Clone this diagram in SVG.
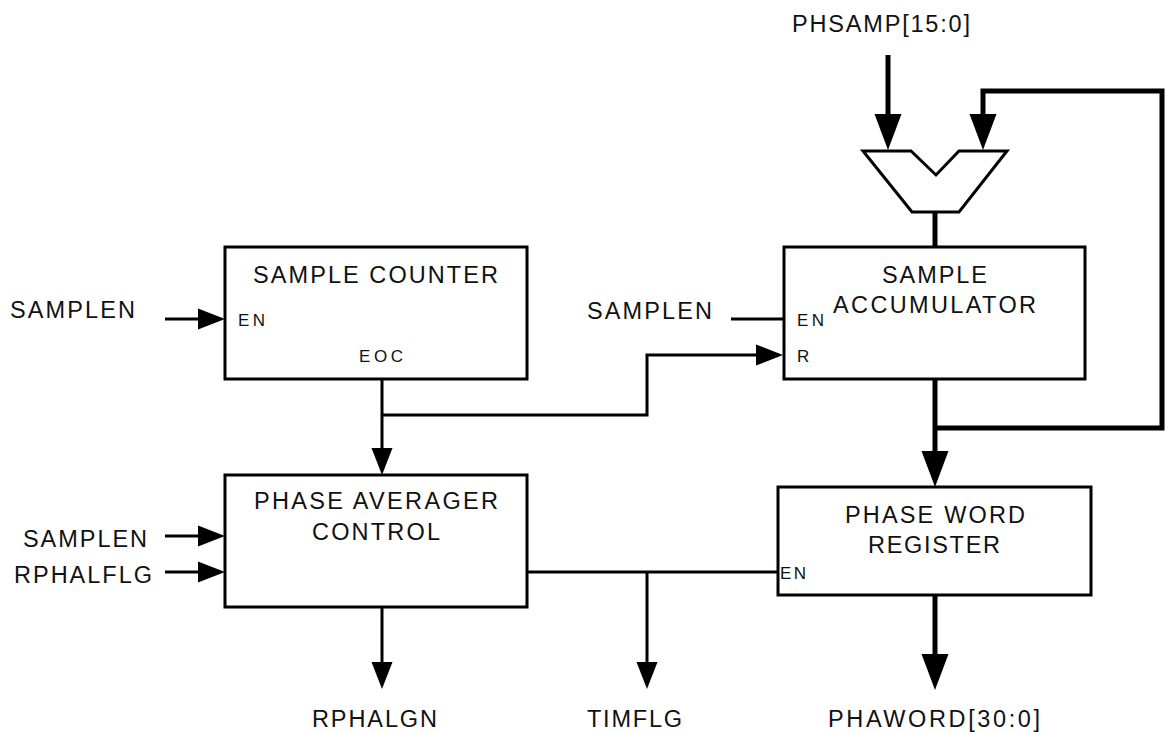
<svg xmlns="http://www.w3.org/2000/svg" width="1165" height="732" viewBox="0 0 1165 732">
<style>
  .box { fill: #fff; stroke: #000; stroke-width: 3; }
  .thin { fill: none; stroke: #000; stroke-width: 3; }
  .thick { fill: none; stroke: #000; stroke-width: 5; }
  .lbl { font-family: "Liberation Sans", Arial, sans-serif; font-size: 23.5px; fill: #111; }
  .sm { font-family: "Liberation Sans", Arial, sans-serif; font-size: 17px; fill: #111; }
</style>
<defs>
  <marker id="aThin" markerUnits="userSpaceOnUse" markerWidth="27" markerHeight="21" refX="1" refY="10.5" orient="auto" overflow="visible">
    <path d="M0,0 L27,10.5 L0,21 Z" fill="#000"/>
  </marker>
  <marker id="aThick" markerUnits="userSpaceOnUse" markerWidth="36" markerHeight="27" refX="1" refY="13.5" orient="auto" overflow="visible">
    <path d="M0,0 L36,13.5 L0,27 Z" fill="#000"/>
  </marker>
</defs>
<rect width="1165" height="732" fill="#fff"/>

<g id="connectors">
  <path class="thin" d="M165,319 H199" marker-end="url(#aThin)"/>
  <path class="thin" d="M165,536 H199" marker-end="url(#aThin)"/>
  <path class="thin" d="M165,572 H199" marker-end="url(#aThin)"/>
  <path class="thin" d="M731,319 H784"/>
  <path class="thin" d="M382,379 V449" marker-end="url(#aThin)"/>
  <path class="thin" d="M382,415 H647 V355 H757" marker-end="url(#aThin)"/>
  <path class="thin" d="M527,572 H779"/>
  <path class="thin" d="M647,572 V663" marker-end="url(#aThin)"/>
  <path class="thin" d="M382,607 V663" marker-end="url(#aThin)"/>
  <path class="thick" d="M888,55 V115" marker-end="url(#aThick)"/>
  <path class="thick" d="M935,428 H1162 V91 H983 V115" marker-end="url(#aThick)"/>
  <path class="thick" d="M935,212 V247"/>
  <path class="thick" d="M935,379 V452" marker-end="url(#aThick)"/>
  <path class="thick" d="M935,595 V655" marker-end="url(#aThick)"/>
</g>

<g id="adder">
  <polygon class="box" points="863,151 911,151 936,175 959,151 1007,151 959,212 912,212"/>
</g>

<g id="sample-counter">
  <rect class="box" x="225" y="247" width="302" height="132"/>
  <text class="lbl" x="253" y="283" textLength="245" lengthAdjust="spacing">SAMPLE COUNTER</text>
  <text class="sm" x="238" y="326" textLength="27" lengthAdjust="spacing">EN</text>
  <text class="sm" x="359" y="362" textLength="44" lengthAdjust="spacing">EOC</text>
</g>

<g id="phase-averager-control">
  <rect class="box" x="225" y="475" width="302" height="132"/>
  <text class="lbl" x="254" y="509" textLength="244" lengthAdjust="spacing">PHASE AVERAGER</text>
  <text class="lbl" x="312" y="540" textLength="128" lengthAdjust="spacing">CONTROL</text>
</g>

<g id="sample-accumulator">
  <rect class="box" x="784" y="247" width="301" height="132"/>
  <text class="lbl" x="882" y="283" textLength="105" lengthAdjust="spacing">SAMPLE</text>
  <text class="lbl" x="833" y="313" textLength="203" lengthAdjust="spacing">ACCUMULATOR</text>
  <text class="sm" x="797" y="326" textLength="27" lengthAdjust="spacing">EN</text>
  <text class="sm" x="797" y="362">R</text>
</g>

<g id="phase-word-register">
  <rect class="box" x="778" y="487" width="313" height="108"/>
  <text class="lbl" x="845" y="523" textLength="180" lengthAdjust="spacing">PHASE WORD</text>
  <text class="lbl" x="868" y="553" textLength="132" lengthAdjust="spacing">REGISTER</text>
  <text class="sm" x="780" y="579" textLength="26" lengthAdjust="spacing">EN</text>
</g>

<g id="signals">
  <text class="lbl" x="10" y="318" textLength="125" lengthAdjust="spacing">SAMPLEN</text>
  <text class="lbl" x="23" y="547" textLength="124" lengthAdjust="spacing">SAMPLEN</text>
  <text class="lbl" x="14" y="583" textLength="138" lengthAdjust="spacing">RPHALFLG</text>
  <text class="lbl" x="587" y="319" textLength="125" lengthAdjust="spacing">SAMPLEN</text>
  <text class="lbl" x="792" y="32" textLength="178" lengthAdjust="spacing">PHSAMP[15:0]</text>
  <text class="lbl" x="312" y="727" textLength="125" lengthAdjust="spacing">RPHALGN</text>
  <text class="lbl" x="587" y="727" textLength="95" lengthAdjust="spacing">TIMFLG</text>
  <text class="lbl" x="828" y="727" textLength="212" lengthAdjust="spacing">PHAWORD[30:0]</text>
</g>
</svg>
